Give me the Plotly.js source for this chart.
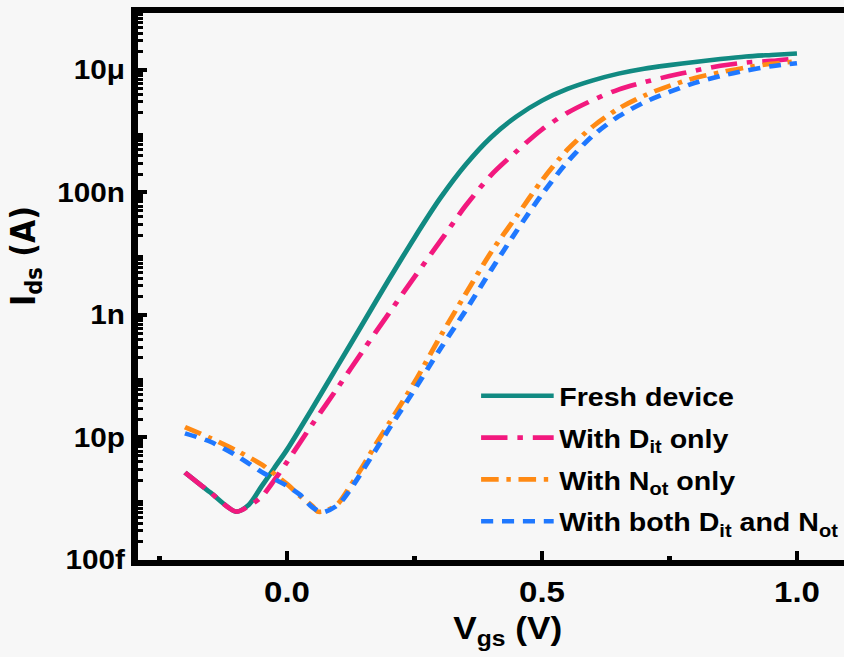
<!DOCTYPE html>
<html>
<head>
<meta charset="utf-8">
<script src="https://cdn.plot.ly/plotly-3.0.1.min.js"></script>
<style>
  html, body { margin: 0; padding: 0; background: #F7F7F7; overflow: hidden; }
  #wrap { width: 844px; height: 657px; overflow: hidden; }
  /* the figure is laid out narrow and widened horizontally */
  #chart { width: 768px; height: 657px; transform: scaleX(1.1); transform-origin: 0 0; }
</style>
</head>
<body>
<div id="wrap"><div id="chart"></div></div>
<script>
// Gate voltage (V) and drain current (A) for each device condition
const vgsFresh = [-0.2, -0.15, -0.1, -0.075, -0.05, -0.025, 0, 0.05, 0.1, 0.15, 0.2, 0.25, 0.3, 0.35, 0.4, 0.45, 0.5, 0.55, 0.6, 0.65, 0.7, 0.75, 0.8, 0.85, 0.9, 0.95, 1.0];
const idsFresh = [2.69e-12, 1.26e-12, 6.17e-13, 7.94e-13, 1.58e-12, 3.16e-12, 6.31e-12, 3.02e-11, 1.51e-10, 7.59e-10, 3.80e-9, 1.82e-8, 7.94e-8, 2.82e-7, 7.94e-7, 1.74e-6, 3.16e-6, 4.90e-6, 6.76e-6, 8.71e-6, 1.05e-5, 1.20e-5, 1.35e-5, 1.51e-5, 1.66e-5, 1.76e-5, 1.86e-5];

const vgsDit = [-0.2, -0.15, -0.1, -0.075, -0.05, -0.025, 0, 0.05, 0.1, 0.15, 0.2, 0.25, 0.3, 0.35, 0.4, 0.45, 0.5, 0.55, 0.6, 0.65, 0.7, 0.75, 0.8, 0.85, 0.9, 0.95, 1.0];
const idsDit = [2.69e-12, 1.26e-12, 6.17e-13, 7.59e-13, 1.07e-12, 2.00e-12, 3.98e-12, 1.66e-11, 6.61e-11, 2.69e-10, 1.07e-9, 4.17e-9, 1.58e-8, 6.03e-8, 1.91e-7, 4.68e-7, 1.07e-6, 2.00e-6, 3.24e-6, 4.79e-6, 6.31e-6, 7.94e-6, 9.77e-6, 1.17e-5, 1.32e-5, 1.41e-5, 1.55e-5];

const vgsNot = [-0.2, -0.15, -0.1, -0.05, 0, 0.025, 0.05, 0.06, 0.075, 0.1, 0.125, 0.15, 0.175, 0.2, 0.25, 0.3, 0.35, 0.4, 0.45, 0.5, 0.55, 0.6, 0.65, 0.7, 0.75, 0.8, 0.85, 0.9, 0.95, 1.0];
const idsNot = [1.48e-11, 9.77e-12, 6.17e-12, 3.63e-12, 1.74e-12, 1.12e-12, 7.59e-13, 6.17e-13, 6.31e-13, 8.32e-13, 1.66e-12, 3.55e-12, 7.94e-12, 1.70e-11, 7.94e-11, 4.37e-10, 2.19e-9, 1.05e-8, 4.07e-8, 1.58e-7, 5.01e-7, 1.20e-6, 2.34e-6, 3.80e-6, 5.50e-6, 7.41e-6, 9.12e-6, 1.10e-5, 1.26e-5, 1.38e-5];

const vgsBoth = [-0.2, -0.15, -0.1, -0.05, 0, 0.025, 0.05, 0.07, 0.1, 0.125, 0.15, 0.175, 0.2, 0.25, 0.3, 0.35, 0.4, 0.45, 0.5, 0.55, 0.6, 0.65, 0.7, 0.75, 0.8, 0.85, 0.9, 0.95, 1.0];
const idsBoth = [1.17e-11, 8.51e-12, 5.13e-12, 2.75e-12, 1.62e-12, 1.17e-12, 7.24e-13, 6.03e-13, 7.94e-13, 1.45e-12, 3.02e-12, 6.46e-12, 1.38e-11, 6.03e-11, 2.75e-10, 1.17e-9, 5.37e-9, 2.34e-8, 9.33e-8, 3.16e-7, 8.51e-7, 1.74e-6, 2.95e-6, 4.37e-6, 6.17e-6, 7.94e-6, 9.77e-6, 1.15e-5, 1.29e-5];

const seriesNames = ['Fresh device', 'With D<sub>it</sub> only', 'With N<sub>ot</sub> only', 'With both D<sub>it</sub> and N<sub>ot</sub>'];

// Current axis: labels every two decades, plain ticks on the decades between
const yTickVals = [1e-13, 1e-11, 1e-9, 1e-7, 1e-5];
const yTickText = ['100f', '10p', '1n', '100n', '10μ'];
const yOddDecades = [1e-12, 1e-10, 1e-8, 1e-6];
const xTickVals = [0, 0.5, 1.0];
const xTickText = ['0.0', '0.5', '1.0'];

const yMinorVals = [];
for (let e = -13; e <= -5; e++) {
  for (let k = 2; k <= 9; k++) yMinorVals.push(k * Math.pow(10, e));
}

const FONT = 'Liberation Sans, Arial, Helvetica, sans-serif';
const WIDE_FONT = 'DejaVu Sans, Verdana, sans-serif';
const Y_RANGE = [-13, -4.07];

function curve(x, y, name, color, dash, group) {
  return {
    x: x, y: y, name: name, type: 'scatter', mode: 'lines',
    legendgroup: group,
    line: { color: color, width: 4.6, dash: dash, shape: 'spline', smoothing: 0.8 }
  };
}

const traces = [
  curve(vgsFresh, idsFresh, seriesNames[0], '#118A82', 'solid', 'a'),
  curve(vgsDit, idsDit, seriesNames[1], '#F2197E', '24px,9px,5px,9px', 'b'),
  curve(vgsNot, idsNot, seriesNames[2], '#FF8A14', '16px,7px,4px,7px', 'c'),
  curve(vgsBoth, idsBoth, seriesNames[3], '#1F78FF', '11px,8px', 'd')
];

const layout = {
  width: 768, height: 657,
  margin: { l: 125, r: 0, t: 13, b: 97 },
  paper_bgcolor: '#F7F7F7', plot_bgcolor: '#F7F7F7',
  font: { family: FONT, color: '#000', weight: 'bold' },
  showlegend: true,
  legend: {
    x: 0.478, y: 0.343, xanchor: 'left', yanchor: 'top',
    bgcolor: 'rgba(0,0,0,0)', borderwidth: 0,
    font: { family: FONT, size: 26, color: '#000', weight: 'bold' },
    itemwidth: 66, tracegroupgap: 5, traceorder: 'grouped'
  },
  xaxis: {
    range: [-0.2931, 1.0938], showgrid: false, zeroline: false,
    showline: true, linecolor: '#000', linewidth: 6, mirror: true,
    tickmode: 'array', tickvals: xTickVals, ticktext: xTickText,
    ticks: 'inside', ticklen: 9, tickwidth: 4, tickcolor: '#000',
    tickfont: { family: FONT, size: 30, color: '#000', weight: 'bold' },
    minor: { tickmode: 'array', tickvals: [-0.25, 0.25, 0.75], ticks: 'inside', ticklen: 4, tickwidth: 5, tickcolor: '#000' }
  },
  yaxis: {
    type: 'log', range: Y_RANGE, showgrid: false, zeroline: false,
    showline: true, linecolor: '#000', linewidth: 6, mirror: false,
    tickmode: 'array', tickvals: yTickVals, ticktext: yTickText,
    ticks: 'inside', ticklen: 9, tickwidth: 4, tickcolor: '#000',
    tickfont: { family: FONT, size: 27, color: '#000', weight: 'bold' },
    minor: { tickmode: 'array', tickvals: yMinorVals, ticks: 'inside', ticklen: 5, tickwidth: 3, tickcolor: '#000' }
  },
  // unlabelled ticks for the in-between decades
  yaxis2: {
    type: 'log', range: Y_RANGE, autorange: false, overlaying: 'y', side: 'left', anchor: 'x',
    showgrid: false, zeroline: false, showline: false, showticklabels: false,
    tickmode: 'array', tickvals: yOddDecades,
    ticks: 'inside', ticklen: 9, tickwidth: 4, tickcolor: '#000'
  },
  annotations: [
    {
      text: 'V<sub>gs</sub> (V)', xref: 'paper', yref: 'paper',
      x: 0.5226, y: -0.088, xanchor: 'center', yanchor: 'top', showarrow: false,
      font: { family: FONT, size: 32, color: '#000', weight: 'bold' }
    },
    {
      text: 'I<sub>ds</sub> (A)', xref: 'paper', yref: 'paper', textangle: -90,
      x: -0.157, y: 0.556, xanchor: 'center', yanchor: 'middle', showarrow: false,
      font: { family: WIDE_FONT, size: 30, color: '#000', weight: 'bold' }
    }
  ]
};

Plotly.newPlot('chart', traces, layout, { displayModeBar: false, staticPlot: true });
</script>
</body>
</html>
